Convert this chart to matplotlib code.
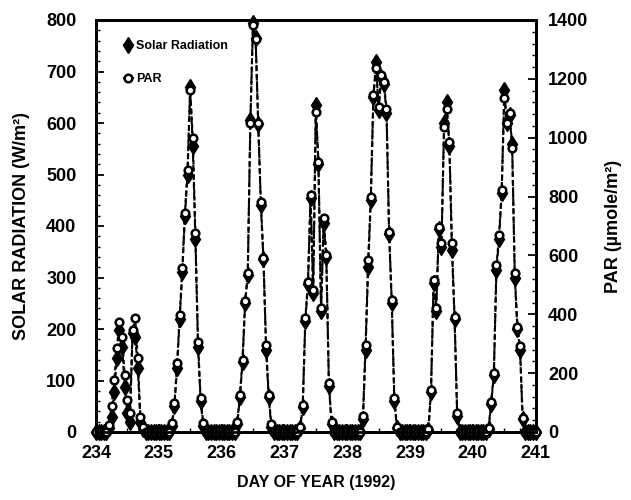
import numpy as np
import matplotlib.pyplot as plt
from matplotlib.ticker import MultipleLocator

# hourly readings, daytime only; night hours are zero
days = [234, 235, 236, 237, 238, 239, 240]
first_hour = [5, 5, 6, 6, 6, 7, 6]

solar = [
    [8, 30, 78, 143, 198, 165, 88, 37, 20, 192, 185, 124, 20, 5],
    [12, 50, 125, 220, 310, 420, 500, 670, 555, 375, 165, 60, 12],
    [15, 68, 135, 250, 305, 605, 795, 765, 598, 440, 335, 160, 68, 10],
    [8, 48, 215, 288, 455, 270, 635, 520, 235, 405, 340, 90, 15],
    [25, 160, 320, 450, 650, 719, 625, 690, 676, 620, 385, 250, 60, 8],
    [4, 78, 290, 235, 395, 360, 600, 641, 555, 353, 220, 32],
    [6, 55, 110, 315, 375, 465, 664, 600, 615, 560, 300, 200, 160, 25],
]
par = [
    [25, 88, 177, 285, 375, 324, 193, 109, 65, 347, 387, 250, 51, 18],
    [30, 98, 233, 397, 557, 744, 891, 1162, 998, 676, 306, 114, 30],
    [35, 126, 245, 445, 539, 1050, 1383, 1335, 1050, 782, 590, 296, 126, 26],
    [18, 91, 387, 511, 805, 483, 1089, 919, 420, 726, 602, 166, 35],
    [53, 296, 585, 800, 1145, 1236, 1106, 1213, 1190, 1099, 681, 448, 114, 18],
    [9, 144, 516, 420, 698, 641, 1038, 1099, 987, 641, 392, 63],
    [14, 103, 200, 567, 669, 823, 1134, 1050, 1083, 964, 539, 357, 291, 47],
]

# build the full hourly series 234.0 .. 241.0
t = []
sr = []
pr = []
for d, h0, s_day, p_day in zip(days, first_hour, solar, par):
    for h in range(24):
        t.append(d + h / 24)
        k = h - h0
        if 0 <= k < len(s_day):
            sr.append(s_day[k])
            pr.append(p_day[k])
        else:
            sr.append(0)
            pr.append(0)
t.append(241)
sr.append(0)
pr.append(0)

plt.rcParams['font.family'] = ['Liberation Sans', 'DejaVu Sans']
plt.rcParams['font.weight'] = 'bold'

fig = plt.figure(figsize=(6.31, 5.0), dpi=100)
ax = fig.add_axes([0.152, 0.136, 0.697, 0.824])
ax2 = ax.twinx()

ax.plot(t, sr, linestyle=(0, (3, 1.5)), color='black', linewidth=1.5,
        marker='d', markersize=8, markerfacecolor='black',
        markeredgecolor='black', clip_on=False, label='Solar Radiation')
ax2.plot(t, pr, linestyle=(0, (2, 1.5)), color='black', linewidth=1.5,
         marker='o', markersize=5.5, markerfacecolor='white',
         markeredgecolor='black', markeredgewidth=1.8, clip_on=False,
         label='PAR')

ax.set_xlim(234, 241)
ax.set_ylim(0, 800)
ax2.set_ylim(0, 1400)

ax.xaxis.set_major_locator(MultipleLocator(1))
ax.xaxis.set_minor_locator(MultipleLocator(0.25))
ax.yaxis.set_major_locator(MultipleLocator(100))
ax.yaxis.set_minor_locator(MultipleLocator(20))
ax2.yaxis.set_major_locator(MultipleLocator(200))
ax2.yaxis.set_minor_locator(MultipleLocator(40))

for a in (ax, ax2):
    a.tick_params(which='major', direction='in', length=6, width=1.3,
                  labelsize=13)
    a.tick_params(which='minor', direction='in', length=3, width=1)
    for sp in a.spines.values():
        sp.set_linewidth(2)
ax.tick_params(axis='x', pad=9)
ax.tick_params(axis='y', pad=14)
ax2.tick_params(axis='y', pad=9)

ax.set_xlabel('DAY OF YEAR (1992)', fontsize=11.5, fontweight='bold', labelpad=10)
ax.set_ylabel('SOLAR RADIATION (W/m²)', fontsize=13, fontweight='bold', labelpad=12)
ax2.set_ylabel('PAR (µmole/m²)', fontsize=13, fontweight='bold', labelpad=12)

h1, l1 = ax.get_legend_handles_labels()
h2, l2 = ax2.get_legend_handles_labels()
ax2.legend(h1 + h2, l1 + l2, loc='upper left', bbox_to_anchor=(0.035, 0.978),
           frameon=False, handlelength=0.9, handletextpad=0.2,
           labelspacing=1.65, numpoints=1,
           prop={'family': ['Liberation Sans Narrow', 'Liberation Sans'],
                 'weight': 'bold', 'size': 9})

fig.savefig('out.png', dpi=100)
